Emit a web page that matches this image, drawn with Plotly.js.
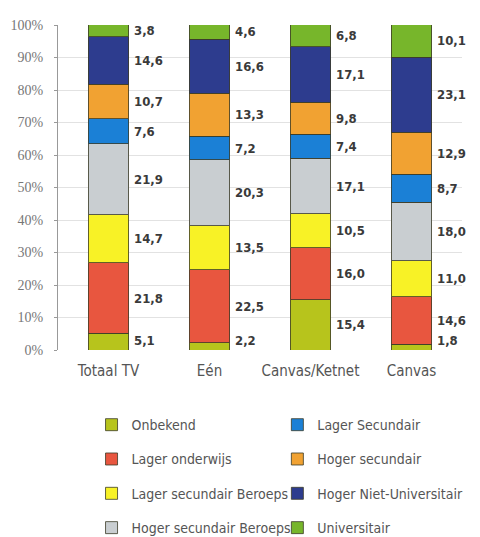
<!DOCTYPE html>
<html>
<head>
<meta charset="utf-8">
<script src="https://cdn.plot.ly/plotly-3.0.1.min.js"></script>
<style>
  body { margin: 0; background: #fff; }
  #chart { width: 480px; height: 537px; }
</style>
</head>
<body>
<div id="chart"></div>
<script>
const zenders = ["Totaal TV", "Eén", "Canvas/Ketnet", "Canvas"];

// stacked bottom to top
const onbekend = [5.1, 2.2, 15.4, 1.8];
const lagerOnderwijs = [21.8, 22.5, 16.0, 14.6];
const lagerSecBeroeps = [14.7, 13.5, 10.5, 11.0];
const hogerSecBeroeps = [21.9, 20.3, 17.1, 18.0];
const lagerSecundair = [7.6, 7.2, 7.4, 8.7];
const hogerSecundair = [10.7, 13.3, 9.8, 12.9];
const hogerNietUniv = [14.6, 16.6, 17.1, 23.1];
const universitair = [3.8, 4.6, 6.8, 10.1];

const yTicks = [0, 10, 20, 30, 40, 50, 60, 70, 80, 90, 100];

const series = [
  {name: "Onbekend", values: onbekend, color: "#b7c41c"},
  {name: "Lager onderwijs", values: lagerOnderwijs, color: "#e8563f"},
  {name: "Lager secundair Beroeps", values: lagerSecBeroeps, color: "#f8f226"},
  {name: "Hoger secundair Beroeps", values: hogerSecBeroeps, color: "#c9ced1"},
  {name: "Lager Secundair", values: lagerSecundair, color: "#1b80d6"},
  {name: "Hoger secundair", values: hogerSecundair, color: "#f1a232"},
  {name: "Hoger Niet-Universitair", values: hogerNietUniv, color: "#2d3c8e"},
  {name: "Universitair", values: universitair, color: "#77b62b"}
];

const condensed = "DejaVu Sans Condensed, DejaVu Sans, sans-serif";

// one legend per entry, laid out in two columns of four
const legendIds = series.map((s, i) => i === 0 ? "legend" : "legend" + (i + 1));

const data = series.map((s, i) => ({
  type: "bar",
  x: zenders,
  y: s.values,
  name: s.name,
  legend: legendIds[i],
  marker: {color: s.color, line: {color: "rgba(60,60,40,0.8)", width: 1}},
  hoverinfo: "skip"
}));

// value labels to the right of each segment
const annotations = [];
zenders.forEach((z, i) => {
  let base = 0;
  let prev = -10;
  series.forEach(s => {
    const v = s.values[i];
    let mid = base + v / 2;
    mid = Math.max(mid, 3, prev + 4.3);
    prev = mid;
    base += v;
    annotations.push({
      x: z, y: mid, xref: "x", yref: "y",
      text: v.toFixed(1).replace(".", ","),
      showarrow: false, xanchor: "left", yanchor: "middle",
      xshift: 23,
      font: {family: condensed, size: 13, color: "#3a3a3a", weight: "bold", stretch: "condensed"}
    });
  });
});

const layout = {
  width: 480,
  height: 537,
  margin: {l: 58, r: 18, t: 25, b: 187, autoexpand: false},
  paper_bgcolor: "#fff",
  plot_bgcolor: "#fff",
  barmode: "stack",
  bargap: 0.6,
  showlegend: true,
  xaxis: {
    type: "category",
    range: [-0.5, 3.5],
    showline: false,
    showgrid: false,
    ticks: "",
    ticklabelstandoff: 10,
    tickfont: {family: condensed, size: 15, color: "#555", stretch: "condensed"}
  },
  yaxis: {
    range: [0, 100],
    tickvals: yTicks,
    ticktext: yTicks.map(t => t + "%"),
    showline: true,
    linecolor: "#999",
    linewidth: 1,
    ticks: "outside",
    ticklen: 3,
    tickcolor: "#999",
    ticklabelstandoff: 8,
    gridcolor: "#e2e2e2",
    zeroline: false,
    tickfont: {family: "Liberation Serif, DejaVu Serif, serif", size: 14, color: "#777"}
  },
  annotations: annotations
};

legendIds.forEach((id, i) => {
  const col = Math.floor(i / 4);
  const row = i % 4;
  layout[id] = {
    orientation: "v",
    x: col === 0 ? 0.083 : 0.543,
    xanchor: "left",
    y: -0.231 - row * 0.1056,
    yanchor: "middle",
    itemwidth: 30,
    font: {family: condensed, size: 14, color: "#555", stretch: "condensed"},
    bgcolor: "rgba(0,0,0,0)"
  };
});

Plotly.newPlot("chart", data, layout, {displayModeBar: false, staticPlot: true});
</script>
</body>
</html>
